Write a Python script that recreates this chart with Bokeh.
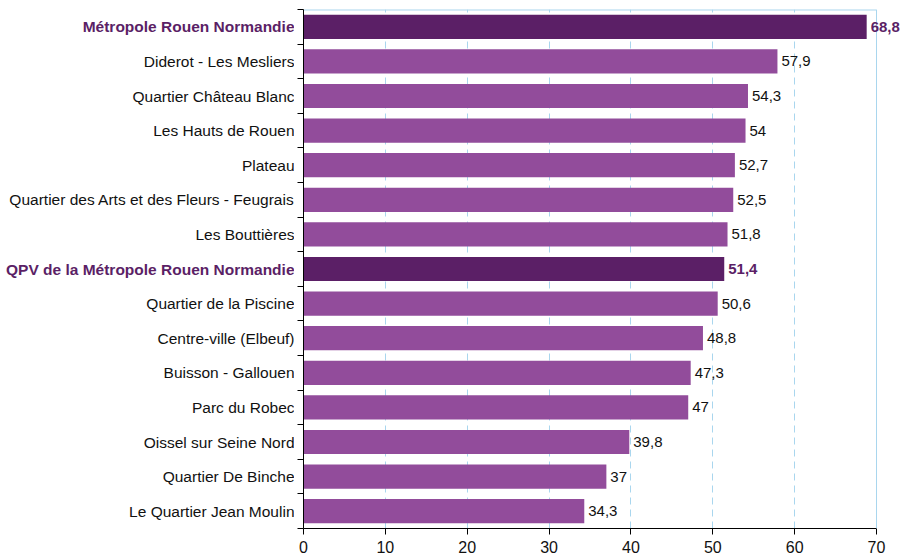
from bokeh.plotting import figure
from bokeh.layouts import row
from bokeh.models import ColumnDataSource, LabelSet, FixedTicker, Range1d, Span
from bokeh.core.properties import value
from bokeh.embed import file_html
from bokeh.resources import INLINE

categories = [
    "Métropole Rouen Normandie",
    "Diderot - Les Mesliers",
    "Quartier Château Blanc",
    "Les Hauts de Rouen",
    "Plateau",
    "Quartier des Arts et des Fleurs - Feugrais",
    "Les Bouttières",
    "QPV de la Métropole Rouen Normandie",
    "Quartier de la Piscine",
    "Centre-ville (Elbeuf)",
    "Buisson - Gallouen",
    "Parc du Robec",
    "Oissel sur Seine Nord",
    "Quartier De Binche",
    "Le Quartier Jean Moulin",
]
values = [68.8, 57.9, 54.3, 54, 52.7, 52.5, 51.8, 51.4, 50.6, 48.8, 47.3, 47, 39.8, 37, 34.3]
highlight = [True, False, False, False, False, False, False, True,
             False, False, False, False, False, False, False]
x_ticks = [0, 10, 20, 30, 40, 50, 60, 70]

DARK = "#5B1F66"
MID = "#924C9B"
TXT = "#111111"
GRID = "#A9D6EE"
FONT = "Liberation Sans"

n = len(categories)
ypos = [n - i - 0.5 for i in range(n)]
src = ColumnDataSource(dict(
    y=ypos,
    v=values,
    cat=categories,
    lbl=[("%g" % v).replace(".", ",") for v in values],
    bar_color=[DARK if h else MID for h in highlight],
    txt_color=[DARK if h else TXT for h in highlight],
    style=["bold" if h else "normal" for h in highlight],
    one=[1] * n,
))

# layout geometry (pixels)
LEFT_W = 294
GAP = 9
TOTAL_W = 902
FRAME_TO_70 = 573          # pixel width from 0 to 70
TOP, BOTTOM, H = 9, 30, 558
xmax_px = TOTAL_W - LEFT_W - GAP
x_end = x_ticks[-1] * xmax_px / FRAME_TO_70

yr = Range1d(0, n)

# left panel: category names
left = figure(width=LEFT_W, height=H, output_backend="svg", toolbar_location=None,
              x_range=Range1d(0, 1), y_range=yr, x_axis_type=None, y_axis_type=None,
              min_border_left=0, min_border_right=0, min_border_top=TOP,
              min_border_bottom=BOTTOM)
left.outline_line_color = None
left.grid.visible = False
left.text(x="one", y="y", text="cat", source=src, text_align="right",
          text_baseline="middle", text_font=value(FONT), text_font_size="15.5px",
          text_color="txt_color", text_font_style="style")

# main chart
p = figure(width=TOTAL_W - LEFT_W, height=H, output_backend="svg", toolbar_location=None,
           x_range=Range1d(0, x_end), y_range=yr,
           min_border_left=GAP, min_border_right=0, min_border_top=TOP,
           min_border_bottom=BOTTOM)
p.outline_line_color = None

p.hbar(y="y", right="v", left=0, height=0.7, fill_color="bar_color",
       line_color=None, source=src)

p.xgrid.ticker = FixedTicker(ticks=x_ticks[1:-1])
p.xgrid.grid_line_color = GRID
p.xgrid.grid_line_dash = "7 5"
p.ygrid.grid_line_color = None

# plot-area border on the right and top
p.add_layout(Span(location=x_ticks[-1], dimension="height", line_color=GRID, line_width=1))
p.segment(x0=[x_ticks[0]], x1=[x_ticks[-1]], y0=[n], y1=[n], line_color=GRID, line_width=2)

p.xaxis.ticker = FixedTicker(ticks=x_ticks)
p.xaxis.bounds = (x_ticks[0], x_ticks[-1])
p.xaxis.axis_line_color = "black"
p.xaxis.major_tick_line_color = "black"
p.xaxis.major_tick_in = 0
p.xaxis.major_tick_out = 6
p.xaxis.minor_tick_line_color = None
p.xaxis.major_label_text_font = FONT
p.xaxis.major_label_text_font_size = "16px"
p.xaxis.major_label_text_color = TXT
p.xaxis.major_label_standoff = 6

p.yaxis.ticker = FixedTicker(ticks=[], minor_ticks=list(range(n + 1)))
p.yaxis.axis_line_color = "black"
p.yaxis.minor_tick_line_color = "black"
p.yaxis.minor_tick_in = 0
p.yaxis.minor_tick_out = 6
p.yaxis.major_tick_line_color = None
p.yaxis.major_label_standoff = 0

p.add_layout(LabelSet(x="v", y="y", text="lbl", source=src, x_offset=4,
                      text_align="left", text_baseline="middle",
                      text_font_size=value("15px"), text_font=value(FONT),
                      text_color="txt_color", text_font_style="style"))

layout = row(left, p, spacing=0)
open("out.html", "w").write(file_html(layout, INLINE))
